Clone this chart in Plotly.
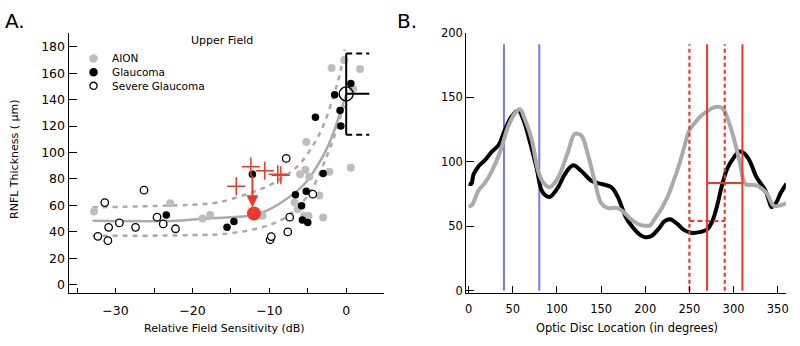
import plotly.graph_objects as go

FONT = "DejaVu Sans"
GRAY_PT = "#bdbdbd"
GRAY_LN = "#aaaaaa"
RED = "#f0382a"
BLUE = "#7878ee"

# ---------------- Panel A data ----------------
aion_x = [-32.8, -23.8, -22.9, -18.7, -17.7, -10.9, -6.7, -6.3, -6.0, -5.3, -5.2, -4.8,
          -4.9, -5.5, -3.5, -3.0, -2.2, -1.9, -0.25, 0.6, 0.9, 1.8]
aion_y = [55.4, 46.0, 61.7, 50.1, 52.8, 52.2, 62.2, 57.0, 83.6, 87.0, 108.0, 81.6,
          51.9, 52.0, 67.5, 50.8, 85.5, 163.9, 169.8, 88.4, 148.0, 163.2]

glau_x = [-23.4, -15.5, -14.6, -12.2, -6.6, -5.8, -5.7, -5.2, -5.0, -4.0, -3.0, -1.5, -0.8, -0.7, 0.6]
glau_y = [52.7, 43.4, 47.8, 83.5, 68.0, 59.8, 49.0, 70.6, 47.0, 126.7, 84.2, 143.7, 131.8, 120.1, 152.2]

sev_x = [-32.3, -31.4, -31.0, -30.9, -29.5, -27.4, -26.3, -24.6, -23.8, -22.2, -9.9, -9.75,
         -7.8, -7.6, -7.35, -4.35]
sev_y = [36.6, 62.1, 33.3, 43.4, 46.7, 43.4, 71.5, 51.1, 46.0, 42.3, 34.0, 36.4,
         95.5, 39.9, 51.1, 68.5]

plus_x = [-14.3, -12.4, -10.6, -8.9, -8.5]
plus_y = [74.5, 89.3, 86.2, 83.5, 82.8]

fit_x = [-33, -22, -20, -17, -12.6, -10.4, -8.2, -6.5, -5.2, -3.9, -2.6, -1.6, -0.8, 0]
fit_y = [48.3, 48.3, 49.3, 50.5, 52.2, 55.8, 63.1, 70.4, 77.7, 88.6, 102, 116, 130, 144]

up_x = [-33, -20, -17, -15.2, -12.6, -10.4, -8.2, -6.1, -4.3, -3.0, -1.7, -0.8, -0.2]
up_y = [58.5, 60.5, 62, 64.3, 69.2, 74, 81.3, 91, 105.6, 120, 142, 160, 178]

lo_x = [-33, -20, -15.2, -10.8, -8.2, -6.1, -4.3, -2.6, -1.5, -0.6, 0]
lo_y = [37, 37.5, 38.8, 43.7, 49.8, 59.5, 74, 96, 113, 130, 140]

arrow_from = (-12.2, 83.5)
arrow_to = (-12.2, 58.5)
red_dot = (-12.0, 53.9)

mean_x, mean_y = 0.0, 144.4
sd_lo, sd_hi = 113.5, 174.9
bar_len = 3.0

# ---------------- Panel B data ----------------
blk_x = [0, 3, 5.6, 11.3, 18.8, 26.3, 33.8, 41.3, 48.8, 56.3, 61.9, 69.4, 76.9, 82.6, 87, 92,
         101.4, 108.9, 118.2, 127.6, 138.9, 150.1, 161.4, 168.9, 178, 186, 193, 200, 207, 215,
         222, 228, 236, 244, 252, 262, 270, 276, 281, 287, 293, 300, 306, 312, 318, 326,
         336, 340, 343, 348, 353, 360]
blk_y = [82.8, 83, 90.3, 96.6, 101.5, 107.8, 112.8, 125.2, 135.2, 139.7, 132.7, 115.3, 95.3, 77.8, 74, 72.8,
         80.3, 90.3, 97.3, 92.8, 85.3, 82.8, 80.3, 72.8, 57, 49, 44, 41.5, 42.5, 48,
         54, 55.5, 52, 47, 45, 45.5, 47.5, 54, 65, 82, 95, 103, 107.8, 106.5, 101, 88,
         77.8, 70, 64.9, 68, 75.4, 83]

gry_x = [0, 3.8, 11.3, 18.8, 26.3, 35.7, 45, 52.6, 58.2, 63.8, 71.3, 78.8, 84.5, 92, 101.4,
         112.6, 120.2, 127.6, 135.1, 142.7, 150.1, 157.7, 168.9, 176.5, 183.9, 191, 199, 206,
         210.2, 217, 225.2, 232, 238.4, 244, 249.6, 256, 262.7, 270, 277.8, 284, 289, 293,
         298.4, 306, 313.4, 320, 326.6, 332, 337.8, 345.4, 352, 360]
gry_y = [65.3, 66.6, 77.8, 84, 92.8, 107.8, 127.8, 137.7, 140.7, 132.7, 117.7, 92.8, 84, 80.3, 87.8,
         107.8, 121.5, 120.3, 105.3, 85.3, 67.9, 64.1, 64.1, 60.4, 55.4, 52, 50.4, 51,
         55.4, 62, 72.8, 85, 97.8, 111, 124, 130, 135.2, 139, 142.2, 142.5, 140.2, 134,
         122.8, 102.8, 82.8, 82, 81.6, 79, 75.4, 65.9, 66, 67.9]

blue_lines = [40, 80]
red_solid = [270, 310]
red_dotted = [250, 290]
vline_top = 191
red_h_solid = (270, 310, 83.6)
red_h_dash = (250, 290, 54.1)

fig = go.Figure()

# ---- panel A traces ----
fig.add_trace(go.Scatter(x=up_x, y=up_y, mode="lines", line=dict(color=GRAY_LN, width=2.5, dash="5px,5px"),
                         line_shape="spline", xaxis="x", yaxis="y"))
fig.add_trace(go.Scatter(x=lo_x, y=lo_y, mode="lines", line=dict(color=GRAY_LN, width=2.5, dash="5px,5px"),
                         line_shape="spline", xaxis="x", yaxis="y"))
fig.add_trace(go.Scatter(x=fit_x, y=fit_y, mode="lines", line=dict(color=GRAY_LN, width=2.5),
                         line_shape="spline", xaxis="x", yaxis="y"))
fig.add_trace(go.Scatter(x=aion_x, y=aion_y, mode="markers",
                         marker=dict(size=8, color=GRAY_PT, line=dict(width=0)), xaxis="x", yaxis="y"))
fig.add_trace(go.Scatter(x=glau_x, y=glau_y, mode="markers",
                         marker=dict(size=7.5, color="black", line=dict(width=0)), xaxis="x", yaxis="y"))
fig.add_trace(go.Scatter(x=sev_x, y=sev_y, mode="markers",
                         marker=dict(size=7.5, color="white", line=dict(width=1.3, color="black")),
                         xaxis="x", yaxis="y"))
fig.add_trace(go.Scatter(x=plus_x, y=plus_y, mode="markers",
                         marker=dict(symbol="cross-thin", size=13, line=dict(width=1.5, color=RED)),
                         xaxis="x", yaxis="y"))
fig.add_trace(go.Scatter(x=[red_dot[0]], y=[red_dot[1]], mode="markers",
                         marker=dict(size=14, color=RED), xaxis="x", yaxis="y"))
# error bar
fig.add_trace(go.Scatter(x=[mean_x, mean_x], y=[sd_lo, sd_hi], mode="lines",
                         line=dict(color="black", width=2), xaxis="x", yaxis="y"))
fig.add_trace(go.Scatter(x=[mean_x, mean_x + bar_len], y=[mean_y, mean_y], mode="lines",
                         line=dict(color="black", width=2), xaxis="x", yaxis="y"))
for yy in (sd_lo, sd_hi):
    fig.add_trace(go.Scatter(x=[mean_x, mean_x + bar_len], y=[yy, yy], mode="lines",
                             line=dict(color="black", width=2, dash="6px,4px"), xaxis="x", yaxis="y"))
fig.add_trace(go.Scatter(x=[mean_x], y=[mean_y], mode="markers",
                         marker=dict(size=14, color="rgba(0,0,0,0)", line=dict(width=1.4, color="black")),
                         xaxis="x", yaxis="y"))

# ---- panel B traces ----
for v in blue_lines:
    fig.add_trace(go.Scatter(x=[v, v], y=[0, vline_top], mode="lines",
                             line=dict(color=BLUE, width=2), xaxis="x2", yaxis="y2"))
fig.add_trace(go.Scatter(x=blk_x, y=blk_y, mode="lines", line=dict(color="black", width=4),
                         line_shape="spline", xaxis="x2", yaxis="y2"))
fig.add_trace(go.Scatter(x=gry_x, y=gry_y, mode="lines", line=dict(color=GRAY_LN, width=4),
                         line_shape="spline", xaxis="x2", yaxis="y2"))
for v in red_solid:
    fig.add_trace(go.Scatter(x=[v, v], y=[0, vline_top], mode="lines",
                             line=dict(color=RED, width=2), xaxis="x2", yaxis="y2"))
for v in red_dotted:
    fig.add_trace(go.Scatter(x=[v, v], y=[0, vline_top], mode="lines",
                             line=dict(color=RED, width=2.2, dash="4px,3px"), xaxis="x2", yaxis="y2"))
fig.add_trace(go.Scatter(x=[red_h_solid[0], red_h_solid[1]], y=[red_h_solid[2]] * 2, mode="lines",
                         line=dict(color=RED, width=2), xaxis="x2", yaxis="y2"))
fig.add_trace(go.Scatter(x=[red_h_dash[0], red_h_dash[1]], y=[red_h_dash[2]] * 2, mode="lines",
                         line=dict(color=RED, width=2, dash="5px,3px"), xaxis="x2", yaxis="y2"))


def txt(text, px, py, size, **kw):
    d = dict(text=text, x=px / 800, y=1 - py / 346, xref="paper", yref="paper", showarrow=False,
             xanchor="center", yanchor="middle", font=dict(size=size, family=FONT, color="black"))
    d.update(kw)
    return d


annotations = [
    dict(x=arrow_to[0], y=arrow_to[1], ax=arrow_from[0], ay=arrow_from[1], xref="x", yref="y",
         axref="x", ayref="y", showarrow=True, arrowhead=2, arrowsize=1.2, arrowwidth=2,
         arrowcolor=RED, text=""),
    txt("A.", 14, 15, 20),
    txt("B.", 408, 15, 20),
    txt("Upper Field", 222, 35, 11),
    txt("Relative Field Sensitivity (dB)", 225, 333, 11),
    txt("Optic Disc Location (in degrees)", 629, 333, 11.4),
    txt("RNFL Thickness ( \u03bcm)", 13, 157.5, 11, textangle=-90),
]

# legend (drawn manually for compact spacing)
legend_labels = ["AION", "Glaucoma", "Severe Glaucoma"]
legend_fill = [GRAY_PT, "black", "white"]
legend_line = [GRAY_PT, "black", "black"]
shapes = []
for i, (lab, fc, lc) in enumerate(zip(legend_labels, legend_fill, legend_line)):
    py = 53.3 + 14.2 * i
    annotations.append(txt(lab, 110, py, 10.5, xanchor="left"))
    shapes.append(dict(type="circle", xref="paper", yref="paper", xsizemode="pixel", ysizemode="pixel",
                       xanchor=93 / 800, yanchor=1 - py / 346, x0=-3.6, x1=3.6, y0=-3.6, y1=3.6,
                       fillcolor=fc, line=dict(color=lc, width=1.3)))

axis_common = dict(showgrid=False, zeroline=False, showline=True, linecolor="black", linewidth=1.3,
                   ticks="inside", tickcolor="black", tickwidth=1.3)

fig.update_layout(
    width=800, height=346, margin=dict(l=0, r=0, t=0, b=0),
    paper_bgcolor="white", plot_bgcolor="white", showlegend=False,
    font=dict(family=FONT, color="black"),
    xaxis=dict(domain=[0.085, 0.481], range=[-36.1, 4.9], tickvals=[-30, -20, -10, 0],
               ticklen=5, minor=dict(tickvals=[-35, -25, -15, -5, 5], ticks="inside", ticklen=5,
                                     tickcolor="black", tickwidth=1.3),
               tickfont=dict(size=12.5), ticklabelstandoff=6, anchor="y", **axis_common),
    yaxis=dict(domain=[0.1445, 0.922], range=[-6.1, 190.4], tickvals=list(range(0, 181, 20)),
               ticklen=8, tickfont=dict(size=12.5), anchor="x", **axis_common),
    xaxis2=dict(domain=[0.5846, 0.986], range=[-2.6, 359.2], tickvals=list(range(0, 351, 50)),
                ticklen=7, tickfont=dict(size=11.5), ticklabelstandoff=5, anchor="y2", **axis_common),
    yaxis2=dict(domain=[0.1445, 0.923], range=[-1.5, 200], tickvals=list(range(0, 201, 50)),
                ticklen=8, tickfont=dict(size=11.5), anchor="x2", **axis_common),
    annotations=annotations, shapes=shapes,
)

fig.write_html("out.html", config={"displayModeBar": False},
               post_script="document.body.style.margin='0px';document.body.style.overflow='hidden';")
